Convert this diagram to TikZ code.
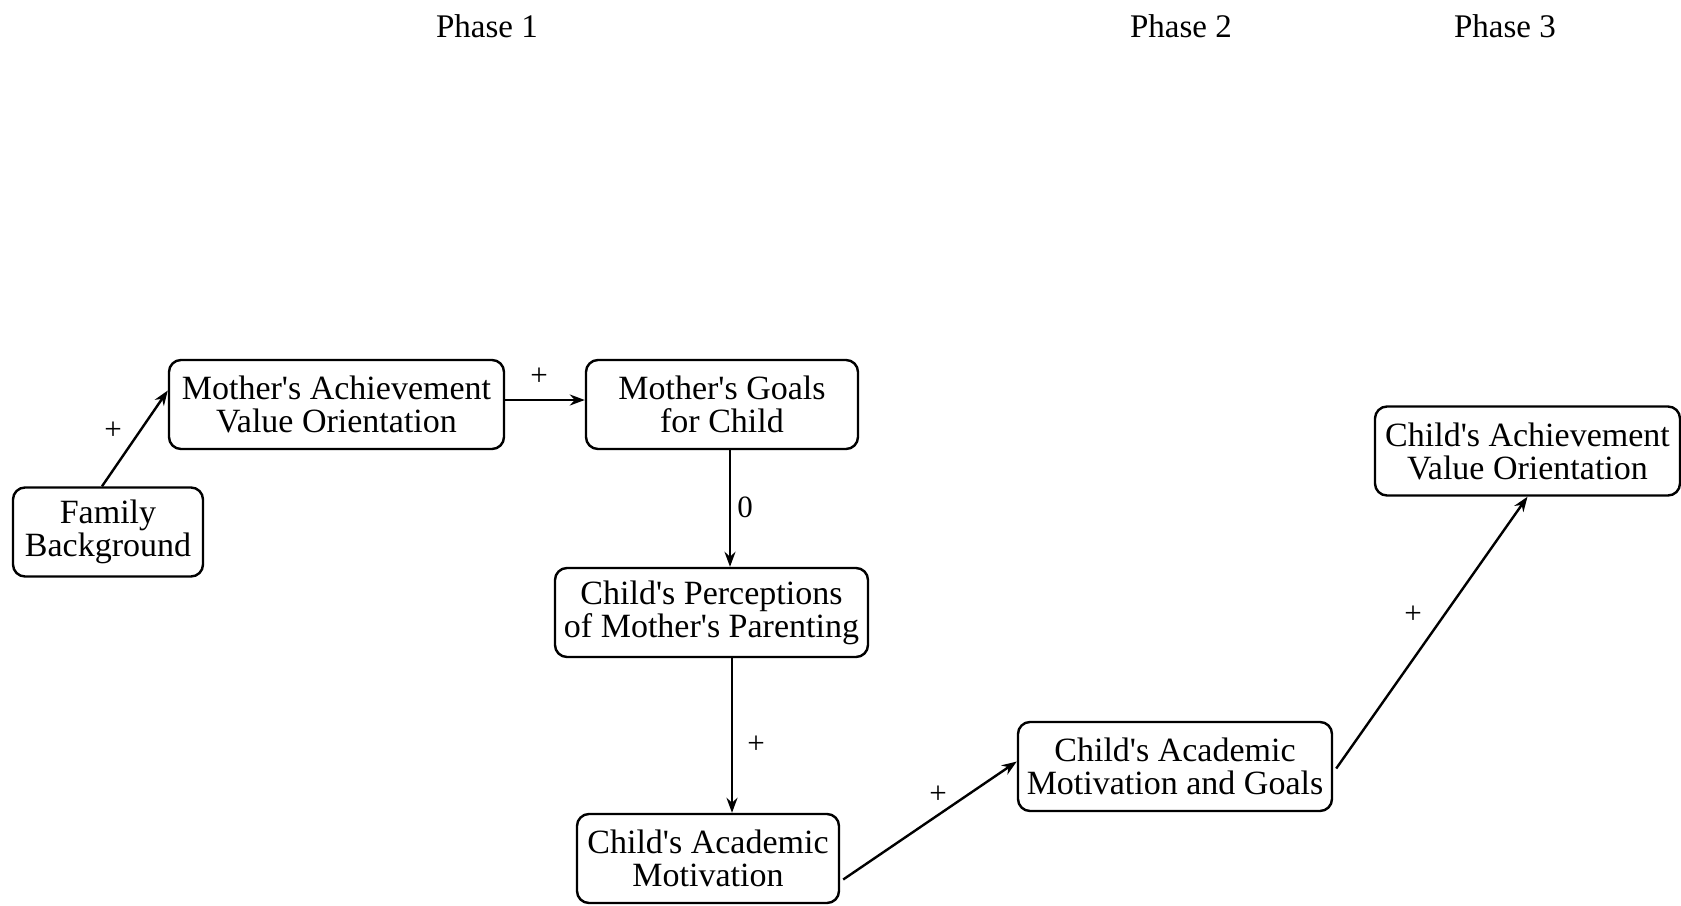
\documentclass[tikz,border=0pt]{standalone}
\usepackage{fontspec}
\setmainfont{Liberation Serif}
\usetikzlibrary{calc,arrows.meta}
\newcommand{\ap}{\textquotesingle}
\tikzset{
  box/.style={draw, line width=2.4pt, rounded corners=12pt, minimum height=89pt,
    inner sep=0pt, align=center, font=\fontsize{34}{33}\selectfont},
  lbl/.style={inner sep=0pt, font=\fontsize{31}{31}\selectfont},
  phase/.style={inner sep=0pt, font=\fontsize{33}{33}\selectfont},
  conn/.style={line width=2.4pt, -{Stealth[length=15pt,width=11pt]}}
}
\begin{document}
\begin{tikzpicture}[x=1pt,y=-1pt]
\useasboundingbox (0,0) rectangle (1681,905);
\node[phase] (p1) at (487,26) {Phase 1};
\node[phase] (p2) at (1181,26) {Phase 2};
\node[phase] (p3) at (1505,26) {Phase 3};

\node[box, minimum width=190pt] (fam) at (108,532) {Family\\Background};
\node[box, minimum width=335pt] (mav) at (336.5,404.5) {Mother\ap s Achievement\\Value Orientation};
\node[box, minimum width=272pt] (mgc) at (722,404.5) {Mother\ap s Goals\\for Child};
\node[box, minimum width=313pt] (cpp) at (711.5,612.5) {Child\ap s Perceptions\\of Mother\ap s Parenting};
\node[box, minimum width=262pt] (cam) at (708,858.5) {Child\ap s Academic\\Motivation};
\node[box, minimum width=314pt] (camg) at (1175,766.5) {Child\ap s Academic\\Motivation and Goals};
\node[box, minimum width=305pt] (cav) at (1527.5,451) {Child\ap s Achievement\\Value Orientation};

\draw[conn] ($(fam.north)+(-6,0)$) -- ($(mav.west)+(0,-14)$);
\draw[conn] (mav.east |- 0,400) -- (mgc.west |- 0,400);
\draw[conn] (mgc.south -| 730,0) -- (cpp.north -| 730,0);
\draw[conn] (cpp.south -| 732,0) -- (cam.north -| 732,0);
\draw[conn] ($(cam.east)+(3,21)$) -- ($(camg.west)+(0,-5)$);
\draw[conn] ($(camg.east)+(3,2)$) -- (cav.south);

\node[lbl] (l1) at (113,431) {+};
\node[lbl] (l2) at (539,377) {+};
\node[lbl] (l3) at (745,507) {0};
\node[lbl] (l4) at (756,745) {+};
\node[lbl] (l5) at (938,795) {+};
\node[lbl] (l6) at (1413,615) {+};
\end{tikzpicture}
\end{document}
